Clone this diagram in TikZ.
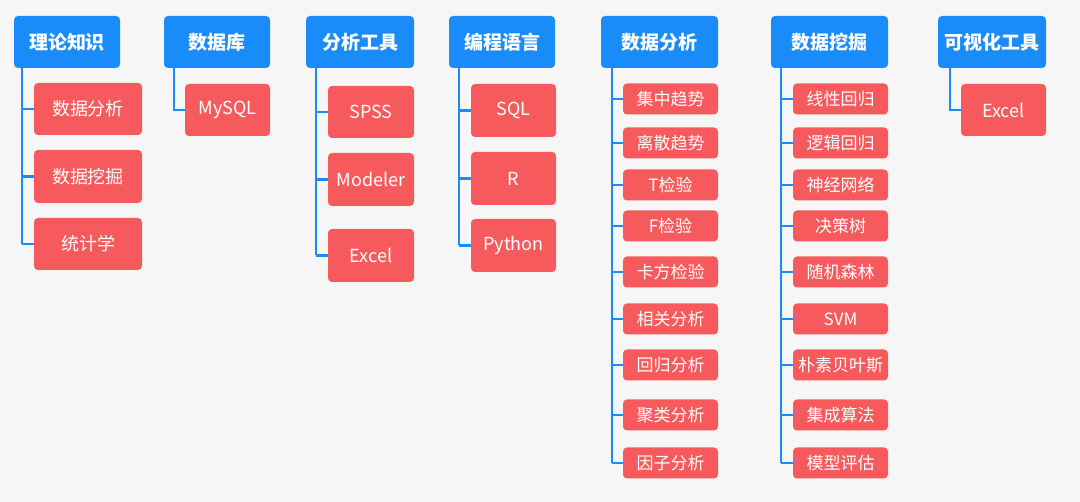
\documentclass[tikz,border=0pt]{standalone}
\usepackage{fontspec}
\setmainfont{Noto Sans CJK SC}
\begin{document}
\begin{tikzpicture}[x=1pt,y=-1pt,
 hd/.style={fill=blu,rounded corners=4pt,text=white,font=\bfseries\fontsize{19}{19}\selectfont,inner sep=0},
 ch/.style={fill=rd,rounded corners=4pt,text=white,font=\fontsize{18}{18}\selectfont,inner sep=0},
 sm/.style={fill=rd,rounded corners=4pt,text=white,font=\fontsize{17}{17}\selectfont,inner sep=0},
 ln/.style={draw=blu,line width=2.6pt}]
\definecolor{blu}{HTML}{1A8CFA}
\definecolor{rd}{HTML}{F65A5C}
\fill[fill={rgb,255:red,246;green,246;blue,246}] (0,0) rectangle (1080,502);
\useasboundingbox (0,0) rectangle (1080,502);
\newcommand\hdr[5]{\node[hd,minimum width=#3,minimum height=52] (#1) at (#2,42) {#4};\coordinate (#1s) at (#5,68);}
\newcommand\kid[7]{\node[#7,minimum width=#4,minimum height=#5] (#1) at (#2,#3) {#6};}
\hdr{a}{67}{106}{理论知识}{22}
\hdr{b}{217}{106}{数据库}{174}
\hdr{c}{360}{108}{分析工具}{316}
\hdr{d}{502}{106}{编程语言}{459}
\hdr{e}{659.5}{117}{数据分析}{612}
\hdr{f}{829.5}{117}{数据挖掘}{781}
\hdr{g}{992}{108}{可视化工具}{950}
% col a
\kid{a1}{88}{109}{108}{52}{数据分析}{ch}
\kid{a2}{88}{176.5}{108}{53}{数据挖掘}{ch}
\kid{a3}{88}{244}{108}{52}{统计学}{ch}
\foreach \k in {a1,a2,a3}{\draw[ln] (as|-\k.west) -- (\k.west);}
\draw[ln] (as) -- (as|-a3.west);
% col b
\kid{b1}{227.5}{110}{85}{52}{MySQL}{ch}
\draw[ln] (bs) -- (bs|-b1.west) -- (b1.west);
% col c
\kid{c1}{371}{112}{86}{52}{SPSS}{ch}
\kid{c2}{371}{179.5}{86}{53}{Modeler}{ch}
\kid{c3}{371}{255.5}{86}{53}{Excel}{ch}
\foreach \k in {c1,c2,c3}{\draw[ln] (cs|-\k.west) -- (\k.west);}
\draw[ln] (cs) -- (cs|-c3.west);
% col d
\kid{d1}{513.5}{110.5}{85}{53}{SQL}{ch}
\kid{d2}{513.5}{178.5}{85}{53}{R}{ch}
\kid{d3}{513.5}{245.5}{85}{53}{Python}{ch}
\foreach \k in {d1,d2,d3}{\draw[ln] (ds|-\k.west) -- (\k.west);}
\draw[ln] (ds) -- (ds|-d3.west);
% col e
\foreach \n/\y/\t in {1/99/集中趋势,2/143/离散趋势,3/185/T检验,4/226/F检验,5/272/卡方检验,6/319/相关分析,7/365/回归分析,8/415/聚类分析,9/463/因子分析}{
 \kid{e\n}{670.5}{\y}{95}{31}{\t}{sm}
 \draw[ln] (es|-e\n.west) -- (e\n.west);}
\draw[ln] (es) -- (es|-e9.west);
% col f
\foreach \n/\y/\t in {1/99/线性回归,2/143/逻辑回归,3/185/神经网络,4/226/决策树,5/272/随机森林,6/319/SVM,7/365/朴素贝叶斯,8/415/集成算法,9/463/模型评估}{
 \kid{f\n}{840.5}{\y}{95}{31}{\t}{sm}
 \draw[ln] (fs|-f\n.west) -- (f\n.west);}
\draw[ln] (fs) -- (fs|-f9.west);
% col g
\kid{g1}{1003.5}{110}{85}{52}{Excel}{ch}
\draw[ln] (gs) -- (gs|-g1.west) -- (g1.west);
\end{tikzpicture}
\end{document}
